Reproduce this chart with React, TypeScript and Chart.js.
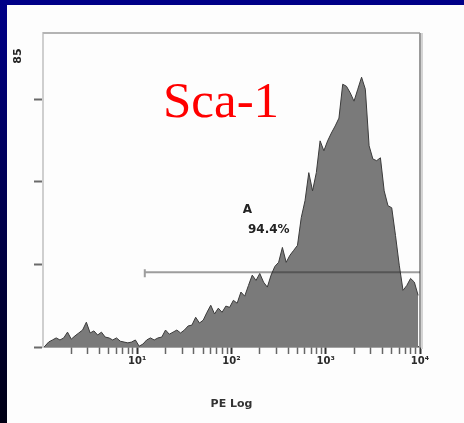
import React, { useEffect, useRef } from "react";
import { Chart, registerables } from "chart.js";

Chart.register(...registerables);

// Histogram channels: width of one channel in decades of the log axis
const BIN_WIDTH = 0.04;
// Event counts per channel (100 channels, 0..4 decades)
const counts = [
  0.2, 1.2, 1.7, 2.2, 1.7, 2.2, 3.6, 1.9, 2.7, 3.4,
  4.1, 6.0, 3.4, 3.9, 2.9, 3.6, 2.4, 2.2, 1.7, 2.2,
  1.4, 1.2, 1.0, 1.2, 1.7, 0.2, 0.7, 1.7, 2.2, 1.7,
  2.2, 2.4, 4.1, 3.1, 3.6, 4.1, 3.4, 4.1, 5.1, 5.3,
  7.2, 5.8, 6.5, 8.4, 10.1, 8.0, 9.4, 8.4, 9.9, 9.6,
  11.3, 10.6, 13.3, 12.3, 14.9, 17.4, 16.1, 17.8, 15.7, 14.5,
  17.4, 19.5, 20.5, 24.1, 20.5, 22.2, 23.4, 24.6, 31.3, 35.4,
  42.2, 37.8, 42.2, 49.9, 47.5, 49.9, 51.8, 53.5, 55.4, 63.6,
  63.1, 61.5, 59.5, 62.4, 65.3, 62.4, 48.7, 45.5, 45.1, 45.8,
  37.8, 34.2, 33.7, 27.0, 19.8, 13.7, 14.9, 16.6, 15.7, 12.5,
];

const xMin = 0;
const xMax = 4;
const majorDecades = [1, 2, 3, 4];
const decadeLabels = ["10¹", "10²", "10³", "10⁴"];
const minorMultipliers = [2, 3, 4, 5, 6, 7, 8, 9];
const yTicks = [0, 20, 40, 60];
const yMax = 76;

const gateStart = 1.08;
const gateEnd = 4.0;
const gateLevel = 18.1;
const gateName = "A";
const gateNamePos = [2.12, 32.5];
const gatePercent = "94.4%";
const gatePercentPos = [2.175, 27.5];

const markerTitle = "Sca-1";
const xTitle = "PE Log";
const yTopLabel = "85";

const overlay = {
  id: "overlay",
  afterDraw(chart: any) {
    const { ctx, chartArea: a, scales } = chart;
    const x = scales.x;
    const y = scales.y;
    ctx.save();
    // frame top and right
    ctx.strokeStyle = "#b4b4b4";
    ctx.lineWidth = 2;
    ctx.beginPath();
    ctx.moveTo(a.left, a.top);
    ctx.lineTo(a.right, a.top);
    ctx.stroke();
    ctx.strokeStyle = "#9a9a9a";
    ctx.lineWidth = 2;
    ctx.beginPath();
    ctx.moveTo(a.right, a.top);
    ctx.lineTo(a.right, a.bottom);
    ctx.stroke();
    ctx.strokeStyle = "#d4d4d4";
    ctx.lineWidth = 2;
    ctx.beginPath();
    ctx.moveTo(a.right + 2, a.top);
    ctx.lineTo(a.right + 2, a.bottom + 2);
    ctx.stroke();

    // gate
    const gy = y.getPixelForValue(gateLevel);
    const gx0 = x.getPixelForValue(gateStart);
    const gx1 = x.getPixelForValue(gateEnd);
    ctx.strokeStyle = "rgba(40,40,40,0.45)";
    ctx.lineWidth = 2;
    ctx.beginPath();
    ctx.moveTo(gx0, gy);
    ctx.lineTo(gx1, gy);
    ctx.moveTo(gx0, gy - 3);
    ctx.lineTo(gx0, gy + 5);
    ctx.stroke();

    ctx.fillStyle = "#222";
    ctx.font = 'bold 12px "DejaVu Sans"';
    ctx.textAlign = "left";
    ctx.textBaseline = "alphabetic";
    ctx.fillText(gateName, x.getPixelForValue(gateNamePos[0]), y.getPixelForValue(gateNamePos[1]));
    ctx.fillText(gatePercent, x.getPixelForValue(gatePercentPos[0]), y.getPixelForValue(gatePercentPos[1]));

    // marker title
    ctx.fillStyle = "#ff0000";
    ctx.font = '51px "Liberation Serif"';
    ctx.fillText(markerTitle, a.left + 120, a.top + 84);

    // y top label (rotated)
    ctx.translate(a.left - 25, a.top + 23);
    ctx.rotate(-Math.PI / 2);
    ctx.fillStyle = "#222";
    ctx.font = 'bold 11px "DejaVu Sans"';
    ctx.textAlign = "center";
    ctx.textBaseline = "middle";
    ctx.fillText(yTopLabel, 0, 0);
    ctx.restore();
  },
};

export default function App() {
  const ref = useRef<HTMLCanvasElement | null>(null);

  useEffect(() => {
    if (!ref.current) return;
    const tickValues: number[] = [];
    for (let d = 0; d < 4; d++) {
      for (const k of minorMultipliers) tickValues.push(d + Math.log10(k));
    }
    majorDecades.forEach((d) => tickValues.push(d));
    const isMajor = (v: number) => majorDecades.some((d) => Math.abs(d - v) < 1e-6);

    const chart = new Chart(ref.current, {
      type: "line",
      data: {
        datasets: [
          {
            data: counts.map((c, i) => ({ x: (i + 0.5) * BIN_WIDTH, y: c })),
            borderColor: "#3a3a3a",
            borderWidth: 1,
            backgroundColor: "#7a7a7a",
            fill: "origin",
            pointRadius: 0,
            tension: 0,
          },
        ],
      },
      options: {
        animation: false,
        responsive: false,
        layout: { padding: { top: 28, right: 44, left: 0, bottom: 0 } },
        plugins: { legend: { display: false }, tooltip: { enabled: false } },
        scales: {
          x: {
            type: "linear",
            min: xMin,
            max: xMax,
            afterBuildTicks: (scale: any) => {
              scale.ticks = tickValues.map((v) => ({ value: v }));
            },
            afterFit: (scale: any) => {
              scale.height = 76;
            },
            ticks: {
              autoSkip: false,
              maxRotation: 0,
              padding: 1,
              color: "#2a2a2a",
              font: { family: "DejaVu Sans", size: 10, weight: "bold" },
              callback: (v: any) => {
                const idx = majorDecades.findIndex((d) => Math.abs(d - Number(v)) < 1e-6);
                return idx >= 0 ? decadeLabels[idx] : "";
              },
            },
            grid: {
              drawOnChartArea: false,
              tickLength: 7,
              tickColor: (c: any) => (c.tick && isMajor(c.tick.value) ? "#333" : "#666"),
              tickWidth: (c: any) => (c.tick && isMajor(c.tick.value) ? 2 : 1.5),
            },
            border: { color: "#4a4a4a", width: 1.5 },
            title: {
              display: true,
              text: xTitle,
              color: "#333",
              font: { family: "DejaVu Sans", size: 11, weight: "bold" },
              padding: { top: 0, bottom: 12 },
            },
          },
          y: {
            min: 0,
            max: yMax,
            afterBuildTicks: (scale: any) => {
              scale.ticks = yTicks.map((v) => ({ value: v }));
            },
            afterFit: (scale: any) => {
              scale.width = 36;
            },
            ticks: { display: false },
            grid: {
              drawOnChartArea: false,
              tickLength: 9,
              tickColor: "#6a6a6a",
              tickWidth: 2,
            },
            border: { color: "#cfcfcf", width: 2 },
          },
        },
      },
      plugins: [overlay],
    } as any);
    return () => chart.destroy();
  }, []);

  return (
    <div
      style={{
        position: "fixed",
        left: 0,
        top: 0,
        width: 464,
        height: 423,
        background: "linear-gradient(to bottom, #000088, #000014)",
        overflow: "hidden",
      }}
    >
      <div
        style={{
          position: "absolute",
          left: 7,
          top: 5,
          width: 457,
          height: 418,
          background: "#fdfdfd",
        }}
      >
        <canvas ref={ref} width={457} height={418} style={{ display: "block" }} />
      </div>
    </div>
  );
}
